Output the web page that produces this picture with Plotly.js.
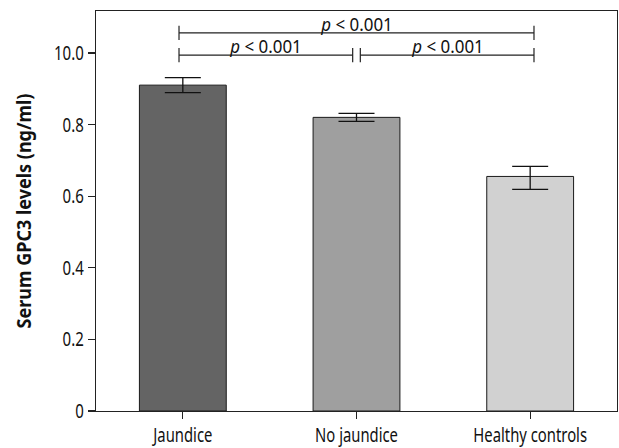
<!DOCTYPE html>
<html>
<head>
<meta charset="utf-8">
<script src="https://cdn.plot.ly/plotly-3.0.1.min.js"></script>
<style>html,body{margin:0;padding:0;background:#fff;}#chart{width:619px;height:448px;}</style>
</head>
<body>
<div id="chart"></div>
<script>
const categories = ['Jaundice', 'No jaundice', 'Healthy controls'];
const meanValues = [0.910, 0.820, 0.655];
const errPlus = [0.021, 0.011, 0.028];
const errMinus = [0.021, 0.011, 0.036];
const barColors = ['#646464', '#9f9f9f', '#d1d1d1'];
const yTickVals = [0, 0.2, 0.4, 0.6, 0.8, 1.0];
const yTickText = ['0', '0.2', '0.4', '0.6', '0.8', '10.0'];
// comparisons: from index, to index, bracket level (data units), label
const compFrom = [0, 0, 1];
const compTo = [2, 1, 2];
const compLevel = [1.056, 0.994, 0.994];
const compLabel = ['<i>p</i> < 0.001', '<i>p</i> < 0.001', '<i>p</i> < 0.001'];

const FONT = '"Noto Sans", Lato, sans-serif';
const F = (size, weight) => ({family: FONT, size: size, color: '#111', weight: weight || 'normal'});
const gap = 0.022;
const tickH = 0.02;

const shapes = [];
const annotations = [];
for (let i = 0; i < compFrom.length; i++) {
  const x0 = compFrom[i] + (compFrom[i] === 1 ? gap : -gap);
  const x1 = compTo[i] + (compTo[i] === 1 ? -gap : gap);
  const y = compLevel[i];
  const ln = {color: '#222', width: 1.2};
  shapes.push({type: 'line', xref: 'x', yref: 'y', x0: x0, x1: x1, y0: y, y1: y, line: ln});
  shapes.push({type: 'line', xref: 'x', yref: 'y', x0: x0, x1: x0, y0: y - tickH, y1: y + tickH, line: ln});
  shapes.push({type: 'line', xref: 'x', yref: 'y', x0: x1, x1: x1, y0: y - tickH, y1: y + tickH, line: ln});
  annotations.push({
    xref: 'x', yref: 'y', x: (x0 + x1) / 2, y: y,
    text: compLabel[i], showarrow: false, yanchor: 'bottom', yshift: -4,
    borderpad: 0,
    font: F(18)
  });
}

const trace = {
  type: 'bar',
  x: categories,
  y: meanValues,
  marker: {color: barColors, line: {color: '#1a1a1a', width: 1}},
  error_y: {type: 'data', symmetric: false, array: errPlus, arrayminus: errMinus,
            color: '#111', thickness: 1.3, width: 18},
  hoverinfo: 'none'
};

const layout = {
  width: 619, height: 448,
  margin: {l: 96, r: 2, t: 11, b: 37, pad: 0},
  paper_bgcolor: '#fff', plot_bgcolor: '#fff',
  bargap: 0.5,
  showlegend: false,
  font: F(20),
  xaxis: {
    type: 'category', range: [-0.5, 2.5],
    showline: true, linecolor: '#222', linewidth: 1.2, mirror: true,
    ticks: 'outside', ticklen: 7, tickcolor: '#222', tickwidth: 1.2,
    showgrid: false, zeroline: false, fixedrange: true,
    tickfont: F(19)
  },
  yaxis: {
    range: [0, 1.117],
    tickvals: yTickVals, ticktext: yTickText,
    showline: true, linecolor: '#222', linewidth: 1.2, mirror: true,
    ticks: 'outside', ticklen: 7, tickcolor: '#222', tickwidth: 1.2,
    showgrid: false, zeroline: false, fixedrange: true,
    tickfont: F(20),
    title: {text: 'Serum GPC3 levels (ng/ml)', standoff: 7, font: F(20, 'bold')}
  },
  shapes: shapes,
  annotations: annotations
};

Plotly.newPlot('chart', [trace], layout, {displayModeBar: false, staticPlot: true}).then(function (gd) {
  // narrow the glyphs to imitate the condensed face of the original
  const squeeze = function (sel, k) {
    gd.querySelectorAll(sel).forEach(function (t) {
      const L = t.getComputedTextLength();
      if (L > 0) {
        t.setAttribute('textLength', (L * k).toFixed(1));
        t.setAttribute('lengthAdjust', 'spacingAndGlyphs');
      }
    });
  };
  squeeze('.xtick text', 0.78);
  squeeze('.ytick text', 0.75);
  squeeze('.annotation-text', 0.94);
  squeeze('.ytitle', 0.9);
});
</script>
</body>
</html>
